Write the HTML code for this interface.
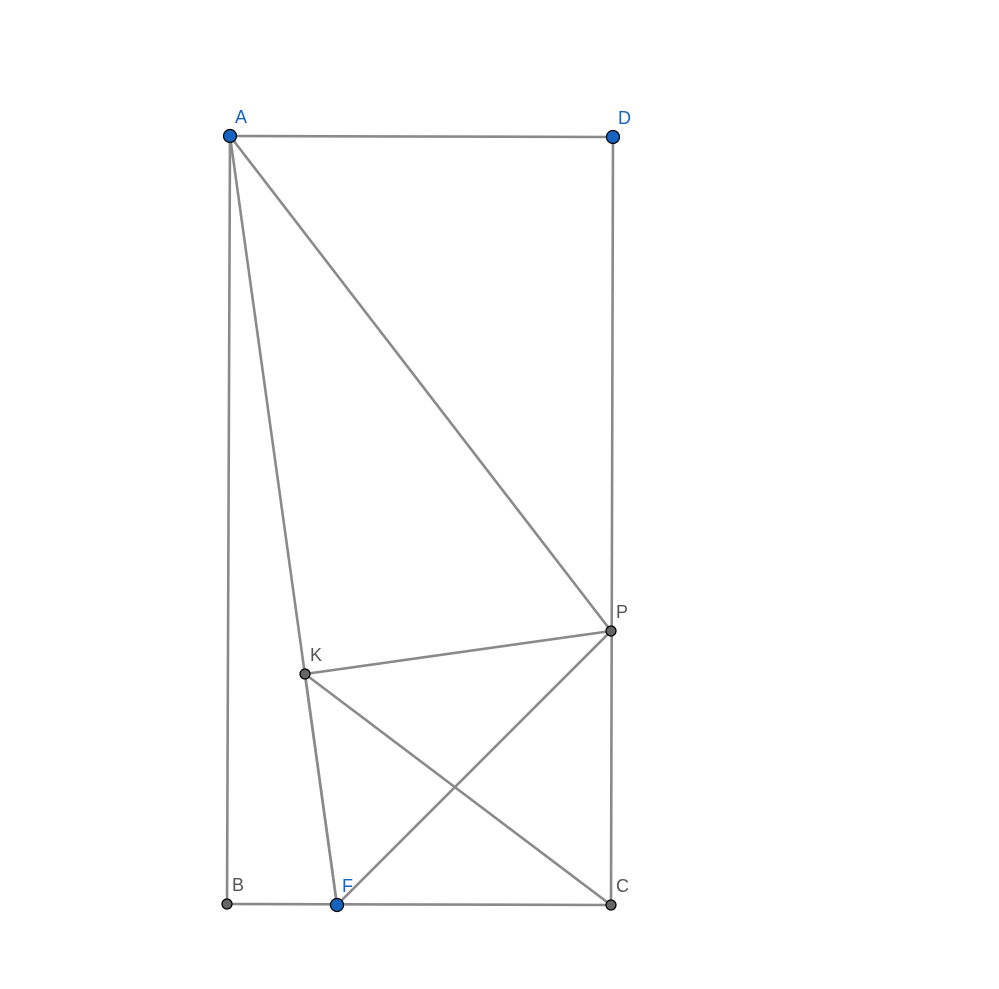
<!DOCTYPE html>
<html><head><meta charset="utf-8"><style>
html,body{margin:0;padding:0;background:#fff;width:999px;height:989px;overflow:hidden}
svg{display:block}
text{font-family:"Liberation Sans",sans-serif;font-size:18px}
</style></head><body>
<svg id="fig" width="999" height="989"></svg>
<script>
const pointNames = ["A","D","B","C","F","P","K"];
const pointX = [230,613,227,611,337,611,305];
const pointY = [136,137,904,905,905,631,674];
const freePoints = ["A","D","F"];
const segments = [["A","D"],["D","C"],["A","B"],["B","C"],["A","P"],["A","F"],["K","P"],["K","F"],["K","C"],["F","P"]];
const NS="http://www.w3.org/2000/svg";
const svg=document.getElementById("fig");
function pt(n){const i=pointNames.indexOf(n);return [pointX[i],pointY[i]];}
segments.forEach(s=>{
  const a=pt(s[0]),b=pt(s[1]);
  const l=document.createElementNS(NS,"line");
  l.setAttribute("x1",a[0]);l.setAttribute("y1",a[1]);l.setAttribute("x2",b[0]);l.setAttribute("y2",b[1]);
  l.setAttribute("stroke","#8a8a8a");l.setAttribute("stroke-width","2.6");
  
  
  svg.appendChild(l);
});
pointNames.forEach((n,i)=>{
  const free=freePoints.includes(n);
  const c=document.createElementNS(NS,"circle");
  c.setAttribute("cx",pointX[i]);c.setAttribute("cy",pointY[i]);
  c.setAttribute("r",free?6.5:5);
  c.setAttribute("fill",free?"#1565c0":"#666");
  c.setAttribute("stroke","#000");c.setAttribute("stroke-width","1.2");
  
  
  svg.appendChild(c);
  const t=document.createElementNS(NS,"text");
  t.setAttribute("x",pointX[i]+5);t.setAttribute("y",pointY[i]-13);
  t.setAttribute("fill",free?"#1565c0":"#555");
  t.textContent=n;
  
  
  svg.appendChild(t);
});
</script>
</body></html>
